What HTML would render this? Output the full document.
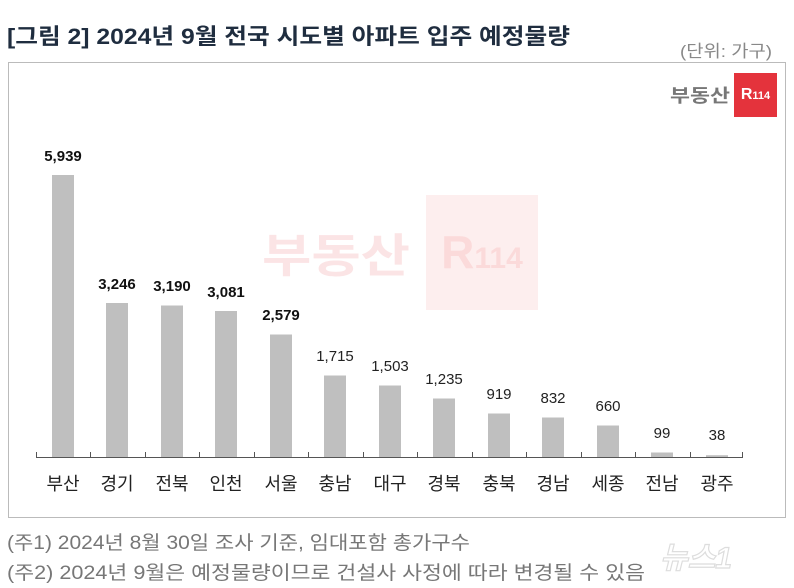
<!DOCTYPE html>
<html><head><meta charset="utf-8"><style>
body{margin:0;width:794px;height:588px;background:#fff;font-family:"Liberation Sans","Noto Sans CJK KR",sans-serif;position:relative;overflow:hidden}
.a{position:absolute;white-space:nowrap}
</style></head><body>
<div class="a" style="left:8px;top:62px;width:776px;height:454px;border:1px solid #bbb"></div>
<div class="a" style="left:734px;top:73px;width:43px;height:44px;background:#e4333c;color:#fff;font-weight:bold;font-size:16px;line-height:44px;text-align:center">R<span style="font-size:11px">114</span></div>
<div class="a" style="left:426px;top:195px;width:112px;height:115px;background:#fdeeee;color:#fbdada;font-weight:bold;font-size:46px;line-height:115px;text-align:center">R<span style="font-size:30px">114</span></div>
<svg class="a" style="left:0;top:0" width="794" height="588">
<text x="7" y="44" font-size="22" font-weight="bold" fill="#1f2d3f" textLength="563" lengthAdjust="spacingAndGlyphs">[그림 2] 2024년 9월 전국 시도별 아파트 입주 예정물량</text>
<text x="680" y="57" font-size="17" fill="#888" textLength="92" lengthAdjust="spacingAndGlyphs">(단위: 가구)</text>
<text x="670" y="102" font-size="18" font-weight="bold" fill="#777" textLength="60" lengthAdjust="spacingAndGlyphs">부동산</text>
<text x="262" y="272" font-size="46" font-weight="bold" fill="#fbe4e5" textLength="148" lengthAdjust="spacingAndGlyphs">부동산</text>
<g fill="#bfbfbf">
<rect x="52" y="175" width="22" height="282"/>
<rect x="106" y="303" width="22" height="154"/>
<rect x="161" y="305.5" width="22" height="151.5"/>
<rect x="215" y="311" width="22" height="146"/>
<rect x="270" y="334.5" width="22" height="122.5"/>
<rect x="324" y="375.5" width="22" height="81.5"/>
<rect x="379" y="385.5" width="22" height="71.5"/>
<rect x="433" y="398.5" width="22" height="58.5"/>
<rect x="488" y="413.5" width="22" height="43.5"/>
<rect x="542" y="417.5" width="22" height="39.5"/>
<rect x="597" y="425.5" width="22" height="31.5"/>
<rect x="651" y="452.5" width="22" height="4.5"/>
<rect x="706" y="455.2" width="22" height="1.8"/>
</g>
<g stroke="#555" stroke-width="1">
<line x1="36" y1="457.5" x2="743" y2="457.5"/>
<path d="M36.5 452v6M90.5 452v6M145.5 452v6M199.5 452v6M254.5 452v6M308.5 452v6M363.5 452v6M417.5 452v6M472.5 452v6M526.5 452v6M581.5 452v6M635.5 452v6M690.5 452v6M742.5 452v6"/>
</g>
<g font-size="15" text-anchor="middle" fill="#111" font-weight="bold">
<text x="63" y="161">5,939</text><text x="117" y="289">3,246</text><text x="172" y="291">3,190</text><text x="226" y="297">3,081</text><text x="281" y="320">2,579</text>
</g>
<g font-size="15" text-anchor="middle" fill="#222">
<text x="335" y="361">1,715</text><text x="390" y="371">1,503</text><text x="444" y="384">1,235</text><text x="499" y="399">919</text><text x="553" y="403">832</text><text x="608" y="411">660</text><text x="662" y="438">99</text><text x="717" y="440">38</text>
</g>
<g font-size="18" text-anchor="middle" fill="#222">
<text x="63" y="490">부산</text><text x="117" y="490">경기</text><text x="172" y="490">전북</text><text x="226" y="490">인천</text><text x="281" y="490">서울</text><text x="335" y="490">충남</text><text x="390" y="490">대구</text><text x="444" y="490">경북</text><text x="499" y="490">충북</text><text x="553" y="490">경남</text><text x="608" y="490">세종</text><text x="662" y="490">전남</text><text x="717" y="490">광주</text>
</g>
<g font-size="19" fill="#777">
<text x="7" y="549" textLength="463" lengthAdjust="spacingAndGlyphs">(주1) 2024년 8월 30일 조사 기준, 임대포함 총가구수</text>
<text x="7" y="579" textLength="638" lengthAdjust="spacingAndGlyphs">(주2) 2024년 9월은 예정물량이므로 건설사 사정에 따라 변경될 수 있음</text>
</g>
<text x="660" y="568" font-size="30" font-style="italic" font-weight="bold" fill="none" stroke="#ddd" stroke-width="1.2">뉴스1</text>
</svg>
</body></html>
